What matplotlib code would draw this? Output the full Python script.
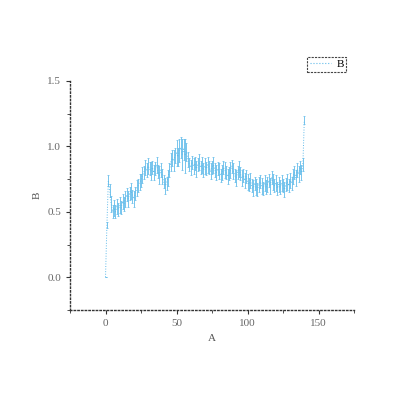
import matplotlib
matplotlib.use("Agg")
import matplotlib.pyplot as plt
from matplotlib.lines import Line2D
from matplotlib.ticker import MultipleLocator, FormatStrFormatter

# --- donnees ---
a = list(range(0, 141))
b = [
    0.00, 0.40, 0.74, 0.66, 0.56, 0.50, 0.53, 0.50, 0.54, 0.52,
    0.55, 0.53, 0.58, 0.56, 0.60, 0.63, 0.60, 0.64, 0.66, 0.62,
    0.60, 0.64, 0.68, 0.70, 0.73, 0.74, 0.78, 0.80, 0.84, 0.82,
    0.85, 0.83, 0.81, 0.84, 0.80, 0.83, 0.86, 0.81, 0.78, 0.82,
    0.77, 0.73, 0.70, 0.72, 0.76, 0.82, 0.88, 0.91, 0.89, 0.93,
    0.95, 0.92, 0.97, 0.99, 0.94, 0.98, 0.93, 0.96, 0.90, 0.86,
    0.84, 0.88, 0.85, 0.87, 0.83, 0.86, 0.88, 0.84, 0.86, 0.82,
    0.85, 0.83, 0.86, 0.84, 0.81, 0.84, 0.86, 0.82, 0.80, 0.83,
    0.81, 0.78, 0.80, 0.84, 0.82, 0.80, 0.77, 0.79, 0.82, 0.85,
    0.81, 0.78, 0.76, 0.80, 0.83, 0.79, 0.76, 0.78, 0.74, 0.77,
    0.73, 0.71, 0.74, 0.70, 0.68, 0.72, 0.69, 0.67, 0.71, 0.73,
    0.70, 0.68, 0.72, 0.69, 0.71, 0.74, 0.70, 0.76, 0.73, 0.70,
    0.72, 0.68, 0.71, 0.69, 0.72, 0.70, 0.67, 0.71, 0.73, 0.70,
    0.74, 0.72, 0.77, 0.80, 0.76, 0.82, 0.79, 0.84, 0.80, 0.86,
    1.20,
]
err = [
    0.00, 0.02, 0.04, 0.05, 0.06, 0.05, 0.06, 0.05, 0.06, 0.05,
    0.06, 0.05, 0.06, 0.05, 0.06, 0.05, 0.06, 0.05, 0.06, 0.05,
    0.06, 0.05, 0.06, 0.05, 0.06, 0.05, 0.06, 0.05, 0.06, 0.05,
    0.06, 0.05, 0.07, 0.05, 0.06, 0.05, 0.06, 0.05, 0.07, 0.05,
    0.06, 0.05, 0.06, 0.05, 0.06, 0.05, 0.07, 0.06, 0.08, 0.06,
    0.10, 0.07, 0.09, 0.08, 0.12, 0.08, 0.13, 0.07, 0.06, 0.05,
    0.06, 0.05, 0.06, 0.05, 0.06, 0.05, 0.06, 0.05, 0.06, 0.05,
    0.06, 0.05, 0.06, 0.05, 0.06, 0.05, 0.06, 0.05, 0.06, 0.05,
    0.06, 0.05, 0.06, 0.05, 0.06, 0.05, 0.06, 0.05, 0.06, 0.05,
    0.06, 0.05, 0.06, 0.05, 0.06, 0.05, 0.06, 0.05, 0.06, 0.05,
    0.06, 0.05, 0.06, 0.05, 0.06, 0.05, 0.06, 0.05, 0.06, 0.05,
    0.06, 0.05, 0.06, 0.05, 0.06, 0.05, 0.06, 0.05, 0.06, 0.05,
    0.06, 0.05, 0.06, 0.05, 0.06, 0.05, 0.06, 0.05, 0.06, 0.05,
    0.06, 0.05, 0.06, 0.05, 0.06, 0.05, 0.06, 0.05, 0.06, 0.05,
    0.03,
]

BLEU = "#62bbea"

plt.rcParams["font.family"] = ["Liberation Serif", "DejaVu Serif"]
plt.rcParams["font.size"] = 8

fig = plt.figure(figsize=(4, 4), dpi=100)
ax = fig.add_axes([0.175, 0.225, 0.71, 0.5725])

ax.errorbar(a, b, yerr=err, color=BLEU, linestyle=":", linewidth=0.7,
            elinewidth=0.6, capsize=1.0, capthick=0.5)

ax.set_xlim(-25, 175)
ax.set_ylim(-0.25, 1.5)
ax.xaxis.set_major_locator(MultipleLocator(50))
ax.xaxis.set_minor_locator(MultipleLocator(25))
ax.yaxis.set_major_locator(MultipleLocator(0.5))
ax.yaxis.set_minor_locator(MultipleLocator(0.25))
ax.yaxis.set_major_formatter(FormatStrFormatter("%.1f"))

for cote in ("top", "right"):
    ax.spines[cote].set_visible(False)
for cote in ("left", "bottom"):
    ax.spines[cote].set_linestyle(":")
    ax.spines[cote].set_linewidth(1.0)
    ax.spines[cote].set_color("#333333")

ax.tick_params(which="both", direction="out", colors="#333333",
               labelcolor="#666666", labelsize=8)
ax.tick_params(which="major", length=3)
ax.tick_params(which="minor", length=2)

ax.set_xlabel("A", color="#555555", fontsize=8)
ax.set_ylabel("B", color="#555555", fontsize=8)

poignee = Line2D([], [], color=BLEU, linestyle=":", linewidth=0.8)
leg = fig.legend([poignee], ["B"], loc="upper right",
                 bbox_to_anchor=(0.866, 0.858), borderaxespad=0.0,
                 fontsize=8, handlelength=1.9, borderpad=0.25,
                 handletextpad=0.5, fancybox=False, framealpha=1)
leg.get_frame().set_linestyle((0, (2, 1)))
leg.get_frame().set_linewidth(0.8)
leg.get_frame().set_edgecolor("#444444")

fig.savefig("out.png", dpi=100)
